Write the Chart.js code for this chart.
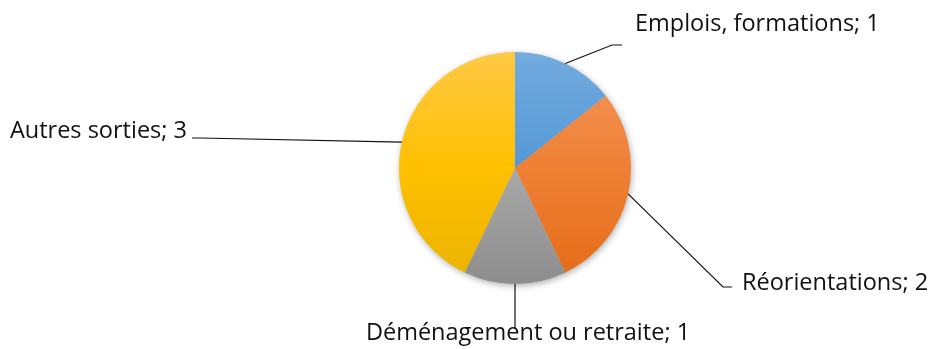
<!DOCTYPE html>
<html lang="fr">
<head>
<meta charset="utf-8">
<title>Sorties</title>
<script src="https://cdn.jsdelivr.net/npm/chart.js@4/dist/chart.umd.min.js"></script>
<style>
  html, body { margin: 0; padding: 0; background: #ffffff; }
  #wrap { width: 928px; height: 349px; }
</style>
</head>
<body>
<div id="wrap"><canvas id="c" width="928" height="349"></canvas></div>
<script>
// Categories and counts, in clockwise order from 12 o'clock
const categories = ['Emplois, formations', 'Réorientations', 'Déménagement ou retraite', 'Autres sorties'];
const counts = [1, 2, 1, 3];

// Vertical gradient stops per slice: light top, base middle, dark bottom
const sliceShades = [
  ['#73abdf', '#5498d6', '#3f82c2'],
  ['#f4975e', '#ef8034', '#e56b17'],
  ['#bcbcbc', '#a9a9a9', '#8d8d8d'],
  ['#ffc945', '#ffc000', '#eab300']
];

// Where each label sits relative to the pie centre, and the elbow of its leader line
const labelLayout = [
  { dx: 120, dy: -137, align: 'left',   elbow: [[97, -123], [107, -123]] },
  { dx: 227, dy: 122,  align: 'left',   elbow: [[208, 119], [217, 119]] },
  { dx: 13,  dy: 172,  align: 'center', elbow: [[0, 160]] },
  { dx: -328, dy: -30, align: 'right',  elbow: [[-315, -30], [-323, -30]] }
];

const FONT = '23.5px "Open Sans", sans-serif';

function sliceFill(ctx) {
  const chart = ctx.chart;
  const area = chart.chartArea;
  if (!area) return sliceShades[ctx.dataIndex][1];
  const g = chart.ctx.createLinearGradient(0, area.top, 0, area.bottom);
  const s = sliceShades[ctx.dataIndex];
  g.addColorStop(0, s[0]);
  g.addColorStop(0.5, s[1]);
  g.addColorStop(1, s[2]);
  return g;
}

// Soft drop shadow under the whole pie
const pieShadow = {
  id: 'pieShadow',
  beforeDatasetsDraw(chart) {
    const arc = chart.getDatasetMeta(0).data[0];
    if (!arc) return;
    const c = chart.ctx;
    c.save();
    c.shadowColor = 'rgba(0,0,0,0.35)';
    c.shadowBlur = 7;
    c.shadowOffsetX = 1;
    c.shadowOffsetY = 2;
    c.fillStyle = '#b0b0b0';
    c.beginPath();
    c.arc(arc.x, arc.y, arc.outerRadius - 0.5, 0, Math.PI * 2);
    c.fill();
    c.restore();
  }
};

// Category labels with leader lines starting at each slice's mid-angle on the rim
const leaderLabels = {
  id: 'leaderLabels',
  afterDatasetsDraw(chart) {
    const meta = chart.getDatasetMeta(0);
    const c = chart.ctx;
    c.save();
    meta.data.forEach((arc, i) => {
      const mid = (arc.startAngle + arc.endAngle) / 2;
      const sx = arc.x + Math.cos(mid) * arc.outerRadius;
      const sy = arc.y + Math.sin(mid) * arc.outerRadius;
      const L = labelLayout[i];
      c.strokeStyle = '#111111';
      c.lineWidth = 1.2;
      c.beginPath();
      c.moveTo(sx, sy);
      L.elbow.forEach(p => c.lineTo(arc.x + p[0], arc.y + p[1]));
      c.stroke();
      c.font = FONT;
      c.fillStyle = '#111111';
      c.textAlign = L.align;
      c.textBaseline = 'alphabetic';
      c.fillText(categories[i] + '; ' + counts[i], arc.x + L.dx, arc.y + L.dy);
    });
    c.restore();
  }
};

new Chart(document.getElementById('c'), {
  type: 'pie',
  data: {
    labels: categories,
    datasets: [{
      data: counts,
      backgroundColor: sliceFill,
      borderWidth: 0
    }]
  },
  options: {
    responsive: false,
    animation: false,
    layout: { padding: { top: 52, bottom: 65, left: 399, right: 297 } },
    plugins: {
      legend: { display: false },
      tooltip: { enabled: false }
    }
  },
  plugins: [pieShadow, leaderLabels]
});
</script>
</body>
</html>
